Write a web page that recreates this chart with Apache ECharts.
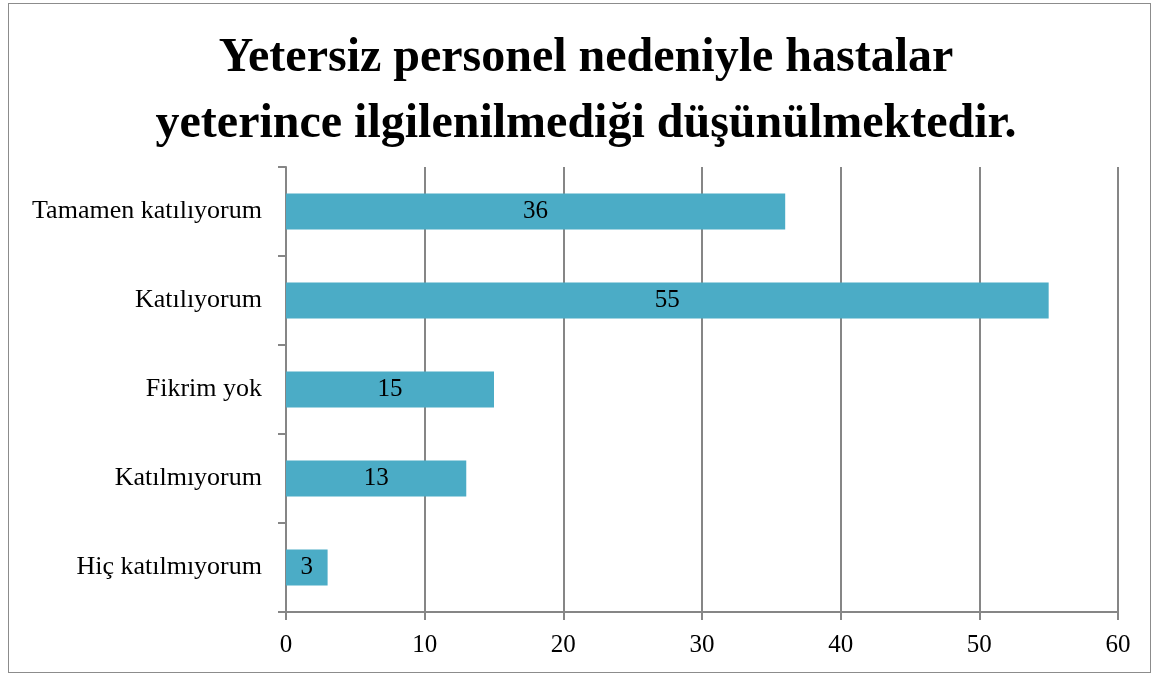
<!DOCTYPE html>
<html>
<head>
<meta charset="utf-8">
<script src="https://cdn.jsdelivr.net/npm/echarts@6/dist/echarts.min.js"></script>
<style>
  html, body { margin: 0; padding: 0; background: #fff; }
  #main { width: 1152px; height: 675px; }
  #frame { position: absolute; left: 8px; top: 3px; width: 1143px; height: 670px; border: 1px solid #8c8c8c; box-sizing: border-box; pointer-events: none; }
</style>
</head>
<body>
<div id="main"></div>
<div id="frame"></div>
<script>
// kategoriler (aşağıdan yukarıya)
const categories = ['Hiç katılmıyorum', 'Katılmıyorum', 'Fikrim yok', 'Katılıyorum', 'Tamamen katılıyorum']
const values = [3, 13, 15, 55, 36]
const titleLines = ['Yetersiz personel nedeniyle hastalar', 'yeterince ilgilenilmediği düşünülmektedir.']

const chart = echarts.init(document.getElementById('main'))
const serif = '"Liberation Serif", "DejaVu Serif", serif'
const axisGray = '#868686'

chart.setOption({
  animation: false,
  title: {
    text: titleLines.join('\n'),
    left: 581,
    textAlign: 'center',
    top: 21,
    textStyle: {
      fontFamily: serif,
      fontWeight: 'bold',
      fontSize: 48,
      lineHeight: 66,
      color: '#000'
    }
  },
  grid: { left: 286, right: 34, top: 167, bottom: 63 },
  xAxis: {
    type: 'value',
    min: 0,
    max: 60,
    interval: 10,
    axisLine: { show: true, lineStyle: { color: axisGray, width: 2 } },
    axisTick: { show: true, length: 8, lineStyle: { color: axisGray, width: 2 } },
    splitLine: { show: true, lineStyle: { color: axisGray, width: 2 } },
    axisLabel: { color: '#000', fontFamily: serif, fontSize: 25, margin: 21 }
  },
  yAxis: {
    type: 'category',
    data: categories,
    axisLine: { show: true, lineStyle: { color: axisGray, width: 2 } },
    axisTick: { show: true, length: 8, lineStyle: { color: axisGray, width: 2 } },
    axisLabel: { color: '#000', fontFamily: serif, fontSize: 26, margin: 24 }
  },
  series: [
    {
      type: 'bar',
      data: values,
      barWidth: 36,
      itemStyle: { color: '#4BACC6' },
      label: {
        show: true,
        position: 'inside',
        color: '#000',
        fontFamily: serif,
        fontSize: 25
      }
    }
  ]
})
</script>
</body>
</html>
